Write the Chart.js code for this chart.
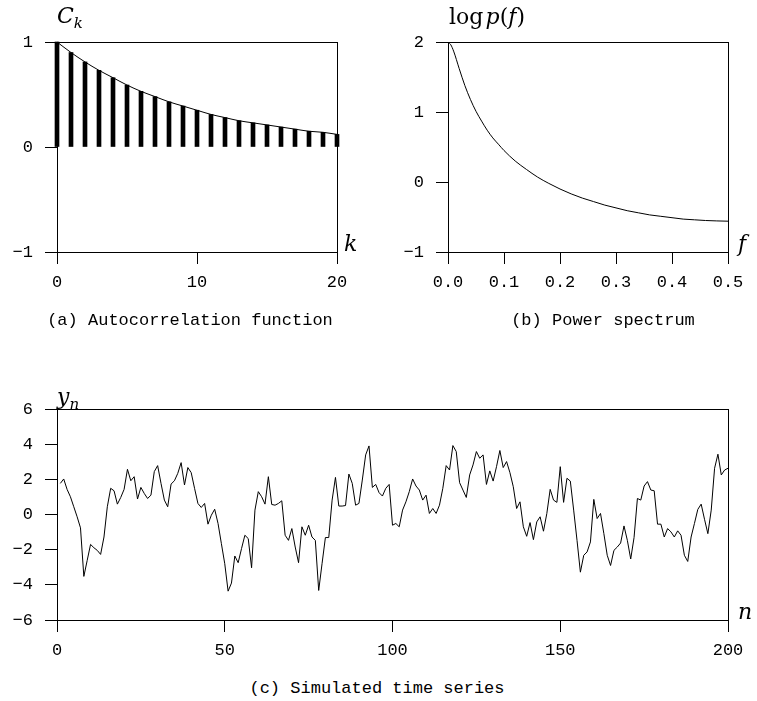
<!DOCTYPE html>
<html>
<head>
<meta charset="utf-8">
<script src="https://cdn.jsdelivr.net/npm/chart.js@4.4.0/dist/chart.umd.min.js"></script>
<style>
  body { margin:0; background:#fff; width:757px; height:701px; position:relative; overflow:hidden; }
  canvas { position:absolute; }
  .lbl { position:absolute; font-family:'DejaVu Serif', serif; font-size:22px; line-height:22px; color:#000; white-space:nowrap; }
  .lbl i { font-style:italic; }
  .lbl sub { font-size:15px; vertical-align:-5px; line-height:0; }
  .cap { position:absolute; font-family:'Liberation Mono', monospace; font-size:17px; line-height:17px; text-align:center; white-space:nowrap; color:#000; }
</style>
</head>
<body>
<canvas id="acf-chart" width="380" height="300" style="left:0;top:0;width:380px;height:300px"></canvas>
<canvas id="spec-chart" width="377" height="300" style="left:380px;top:0;width:377px;height:300px"></canvas>
<canvas id="series-chart" width="757" height="300" style="left:0;top:360px;width:757px;height:300px"></canvas>

<div class="lbl" style="left:57px;top:5px"><i>C<sub>k</sub></i></div>
<div class="lbl" style="left:344px;top:233px"><i>k</i></div>
<div class="lbl" style="left:449px;top:6px">log&#8202;<i>p</i>(<i>f</i>)</div>
<div class="lbl" style="left:738px;top:233px"><i>f</i></div>
<div class="lbl" style="left:57px;top:386px"><i>y<sub>n</sub></i></div>
<div class="lbl" style="left:738px;top:601px"><i>n</i></div>

<div class="cap" style="left:40px;width:300px;top:312px">(a) Autocorrelation function</div>
<div class="cap" style="left:503px;width:200px;top:312px">(b) Power spectrum</div>
<div class="cap" style="left:242px;width:270px;top:680px">(c) Simulated time series</div>

<script>
// (a) autocorrelation
var lags = [0, 1, 2, 3, 4, 5, 6, 7, 8, 9, 10, 11, 12, 13, 14, 15, 16, 17, 18, 19, 20];
var acfValues = [1.00, 0.90, 0.81, 0.73, 0.66, 0.59, 0.53, 0.48, 0.43, 0.39, 0.35,
                 0.31, 0.28, 0.25, 0.23, 0.21, 0.19, 0.17, 0.15, 0.14, 0.12];
var acfXTicks = [0, 10, 20];
var acfYTicks = [-1, 0, 1];

// (b) power spectrum
var freqs = [0, 0.005, 0.01, 0.02, 0.03, 0.04, 0.05, 0.06, 0.07, 0.08, 0.09, 0.10, 0.12, 0.14, 0.16,
             0.18, 0.20, 0.22, 0.24, 0.26, 0.28, 0.30, 0.32, 0.34, 0.36, 0.38, 0.40,
             0.42, 0.44, 0.46, 0.48, 0.50];
var logPower = [2.00, 1.96, 1.87, 1.62, 1.38, 1.18, 1.01, 0.87, 0.74, 0.63, 0.54, 0.45, 0.30, 0.18, 0.07,
                -0.02, -0.10, -0.17, -0.23, -0.28, -0.33, -0.37, -0.41, -0.44, -0.47, -0.49, -0.51,
                -0.53, -0.54, -0.55, -0.556, -0.56];
var specXTicks = [0, 0.1, 0.2, 0.3, 0.4, 0.5];
var specYTicks = [-1, 0, 1, 2];

// (c) simulated series, n = 1..200
var seriesValues = [
  1.77, 2.02, 1.43, 1.01, 0.44, -0.13, -0.76, -3.52, -2.61, -1.70,
  -1.89, -2.04, -2.27, -1.28, 0.44, 1.49, 1.35, 0.59, 0.97, 1.43,
  2.57, 1.92, 2.15, 0.88, 1.54, 1.20, 0.91, 1.10, 2.44, 2.78,
  1.77, 0.82, 0.44, 1.73, 1.92, 2.34, 2.95, 1.68, 2.67, 2.38,
  1.49, 0.63, 0.40, 0.63, -0.55, -0.04, 0.30, -0.51, -1.66, -2.80,
  -4.36, -3.90, -2.36, -2.74, -1.94, -1.18, -1.37, -3.03, 0.25, 1.30,
  1.01, 0.59, 2.15, 0.57, 0.53, 0.63, 0.78, -1.18, -1.47, -0.80,
  -1.85, -2.74, -0.70, -1.18, -0.61, -1.28, -1.47, -4.32, -2.80, -1.31,
  -1.31, 0.82, 2.11, 0.48, 0.48, 0.51, 2.30, 1.77, 0.53, 0.63,
  1.96, 3.39, 3.90, 1.54, 1.71, 1.24, 1.05, 1.49, 1.71, -0.61,
  -0.51, -0.70, 0.25, 0.72, 1.30, 2.02, 1.62, 1.39, 0.82, 1.10,
  0.06, 0.34, 0.06, 0.53, 1.49, 2.78, 2.53, 3.92, 3.58, 1.81,
  1.39, 0.97, 2.25, 2.82, 3.58, 3.20, 3.39, 1.71, 2.48, 1.90,
  2.72, 3.64, 2.67, 3.01, 2.38, 1.58, 0.34, 0.72, -0.70, -1.24,
  -0.46, -1.43, -0.42, -0.13, -0.95, 0.06, 1.43, 0.82, 0.69, 2.72,
  0.69, 2.06, 1.90, 0.25, -1.47, -3.28, -2.32, -2.13, -1.56, 0.86,
  -0.23, 0.06, -1.09, -2.32, -2.90, -2.04, -1.85, -1.62, -0.65, -1.47,
  -2.53, -1.31, 0.91, 0.82, 1.62, 1.87, 1.39, 1.35, -0.55, -0.55,
  -1.28, -0.80, -0.99, -1.28, -0.93, -1.18, -2.32, -2.67, -1.28, -0.51,
  0.29, 0.59, -0.27, -1.09, 0.25, 2.63, 3.43, 2.25, 2.53, 2.63
];
var seriesXTicks = [0, 50, 100, 150, 200];
var seriesYTicks = [-6, -4, -2, 0, 2, 4, 6];

var tickFont = { family: "'Liberation Mono', monospace", size: 17 };

// box around the plot area
var framePlugin = {
  id: 'frame',
  afterDraw: function (chart) {
    var a = chart.chartArea, ctx = chart.ctx;
    ctx.save();
    ctx.strokeStyle = '#000';
    ctx.lineWidth = 1;
    ctx.strokeRect(Math.round(a.left) + 0.5, Math.round(a.top) + 0.5,
                   Math.round(a.right - a.left), Math.round(a.bottom - a.top));
    ctx.restore();
  }
};

function minus(v) { return String(v).replace('-', '\u2212'); }

function axis(min, max, ticks, fmt, fit, pad) {
  return {
    type: 'linear', min: min, max: max, offset: false,
    afterBuildTicks: function (s) { s.ticks = ticks.map(function (v) { return { value: v }; }); },
    ticks: { color: '#000', font: tickFont, padding: pad, maxRotation: 0, autoSkip: false,
             callback: function (v) { return fmt(v); } },
    grid: { drawOnChartArea: false, drawTicks: true, tickLength: 12, color: '#000', lineWidth: 1, offset: false },
    border: { display: true, color: '#000', width: 1 },
    afterFit: fit
  };
}

function baseOptions(pad, xs, ys) {
  return {
    responsive: false, animation: false, events: [],
    layout: { padding: pad },
    plugins: { legend: { display: false }, tooltip: { enabled: false } },
    scales: { x: xs, y: ys }
  };
}

function pts(xs, ys) {
  return xs.map(function (x, i) { return { x: x, y: ys[i] }; });
}

// (a)
new Chart(document.getElementById('acf-chart'), {
  data: {
    datasets: [
      { type: 'bar', data: pts(lags, acfValues), backgroundColor: '#000', barThickness: 4, clip: false },
      { type: 'line', data: pts(lags, acfValues), borderColor: '#000', borderWidth: 1, pointRadius: 0,
        cubicInterpolationMode: 'monotone', clip: false }
    ]
  },
  options: baseOptions({ left: 0, top: 42, right: 43, bottom: 0 },
    axis(0, 20, acfXTicks, function (v) { return minus(v); }, function (s) { s.height = 48; }, 8),
    axis(-1, 1, acfYTicks, function (v) { return minus(v); }, function (s) { s.width = 57; }, 12)),
  plugins: [framePlugin]
});

// (b)
new Chart(document.getElementById('spec-chart'), {
  type: 'line',
  data: {
    datasets: [
      { data: pts(freqs, logPower), borderColor: '#000', borderWidth: 1, pointRadius: 0,
        cubicInterpolationMode: 'monotone' }
    ]
  },
  options: baseOptions({ left: 0, top: 42, right: 29, bottom: 0 },
    axis(0, 0.5, specXTicks, function (v) { return v.toFixed(1); }, function (s) { s.height = 48; }, 8),
    axis(-1, 2, specYTicks, function (v) { return minus(v); }, function (s) { s.width = 68; }, 12)),
  plugins: [framePlugin]
});

// (c)
var seriesN = [];
for (var i = 0; i < seriesValues.length; i++) seriesN.push(i + 1);

new Chart(document.getElementById('series-chart'), {
  type: 'line',
  data: {
    datasets: [
      { data: pts(seriesN, seriesValues), borderColor: '#000', borderWidth: 1, pointRadius: 0, tension: 0 }
    ]
  },
  options: baseOptions({ left: 0, top: 49, right: 29, bottom: 0 },
    axis(0, 200, seriesXTicks, function (v) { return minus(v); }, function (s) { s.height = 40; }, 8),
    axis(-6, 6, seriesYTicks, function (v) { return minus(v); }, function (s) { s.width = 57; }, 12)),
  plugins: [framePlugin]
});
</script>
</body>
</html>
